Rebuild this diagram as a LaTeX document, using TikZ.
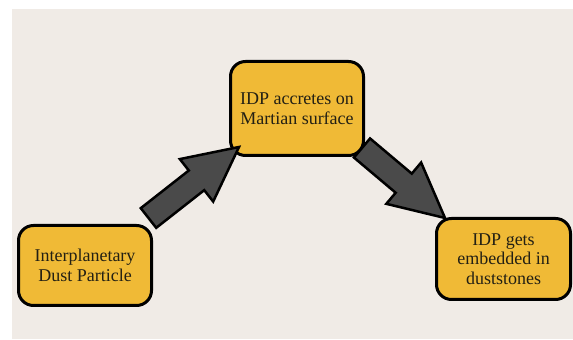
\documentclass[tikz,border=0pt]{standalone}
\usepackage{fontspec}
\setmainfont{Liberation Serif}
\usetikzlibrary{calc}

\definecolor{boxfill}{RGB}{240,186,54}
\definecolor{backfill}{RGB}{240,235,230}
\definecolor{arrowfill}{RGB}{74,74,74}
\definecolor{inktext}{RGB}{35,32,20}

\tikzset{
  stage/.style={draw=black, line width=3pt, fill=boxfill, rounded corners=15pt,
    align=center, inner sep=0pt, text=inktext,
    font=\fontsize{18}{19.5}\selectfont},
  fatarrow/.style={draw=black, line width=2.5pt, fill=arrowfill, line join=miter}
}

% block arrow from #1 (tail) to #2 (tip)
\newcommand{\blockarrow}[2]{%
  \coordinate (h) at ($(#2)!54pt!(#1)$);
  \draw[fatarrow] ($(#1)!12.5pt!90:(#2)$) -- ($(h)!12.5pt!90:(#2)$)
    -- ($(h)!27pt!90:(#2)$) -- (#2) -- ($(h)!27pt!-90:(#2)$)
    -- ($(h)!12.5pt!-90:(#2)$) -- ($(#1)!12.5pt!-90:(#2)$) -- cycle;}

\begin{document}
\begin{tikzpicture}[x=1pt,y=1pt]

      \useasboundingbox (0,0) rectangle (573,340);
      \fill[backfill] (12,1) rectangle (573,331);

      \begin{scope}[every node/.style={stage}]
        \node[minimum width=133pt, minimum height=80pt] (dust)    at (85,74.5)  {Interplanetary\\Dust Particle};
        \node[minimum width=133pt, minimum height=94pt] (accrete) at (297,231.5) {IDP accretes on\\Martian surface};
        \node[minimum width=134pt, minimum height=81pt] (embed)   at (503.5,81) {IDP gets\\embedded in\\duststones};
      \end{scope}

      \coordinate (up tail)   at ($(dust.north east)+(-4.5,6)$);
      \coordinate (up tip)    at ($(accrete.south west)+(10,10)$);
      \coordinate (down tail) at ($(accrete.south east)+(-3,9)$);
      \coordinate (down tip)  at ($(embed.north west)+(10,-1)$);

      \blockarrow{up tail}{up tip}
      \blockarrow{down tail}{down tip}

    \end{tikzpicture}
\end{document}
